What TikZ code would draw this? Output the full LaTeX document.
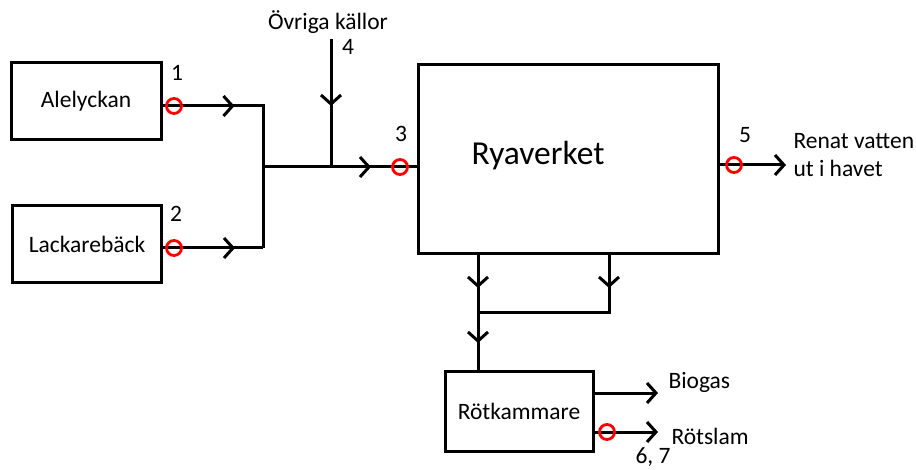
\documentclass[tikz,border=0pt]{standalone}
\usepackage{fontspec}
\setmainfont{Carlito}
\usetikzlibrary{arrows.meta,decorations.markings}
\begin{document}
\begin{tikzpicture}[x=1pt,y=-1pt,line width=3pt,
  txt/.style={font=\fontsize{23.5}{28}\selectfont,inner sep=0pt},
  big/.style={font=\fontsize{33.5}{38}\selectfont,inner sep=0pt},
  box/.style={draw,line width=3pt,txt,inner sep=0pt},
  ring/.style={circle,draw=red,line width=2.8pt,minimum size=15pt,inner sep=0pt},
  tipline/.style={-{Straight Barb[length=9pt,width=20pt]}},
  midarr/.style={postaction={decorate},decoration={markings,mark=at position #1 with {\arrow{Straight Barb[length=9pt,width=20pt]}}}}]
\useasboundingbox (0,0) rectangle (916,470);

% boxes
\node[box,minimum width=150pt,minimum height=77pt] (A) at (86,101) {Alelyckan};
\node[box,minimum width=149pt,minimum height=77pt] (L) at (87,244) {Lackarebäck};
\node[draw,line width=3pt,minimum width=300pt,minimum height=189pt,inner sep=0pt] (R) at (568,159.5) {};
\node[big] (Rt) at (538,156) {Ryaverket};
\node[box,minimum width=148pt,minimum height=79pt] (K) at (519,411.5) {Rötkammare};

% junction points
\coordinate (jA) at (263,106);
\coordinate (jB) at (263,248);
\coordinate (j1) at (263,167);
\coordinate (ov) at (331,39);
\coordinate (j2) at (331,167);
\coordinate (d1) at (478,254);
\coordinate (d2) at (609,254);
\coordinate (h1) at (478,313);
\coordinate (h2) at (609,313);
\coordinate (out) at (786,165);
\coordinate (bg) at (658,393);
\coordinate (rs) at (658,432);

% measurement ring positions
\coordinate (p1) at (174,106);
\coordinate (p2) at (174,248);
\coordinate (p3) at (400,167);
\coordinate (p5) at (734,165);
\coordinate (p6) at (607,432);

% connectors
\draw[midarr=72pt] (A.east |- p1) -- (jA) -- (jB);
\draw[midarr=72pt] (L.east |- p2) -- (jB);
\draw[midarr=108pt] (j1) -- (R.west |- p3);
\draw[midarr=67pt] (ov) -- (j2);
\draw[tipline] (R.east |- p5) -- (out);
\draw[midarr=34pt] (d1) -- (h1);
\draw[midarr=34pt] (d2) -- (h2) -- (h1);
\draw[midarr=30pt] (h1) -- (K.north -| h1);
\draw[tipline] (K.east |- bg) -- (bg);
\draw[tipline] (K.east |- p6) -- (rs);

% rings
\node[ring] (c1) at (p1) {};
\node[ring] (c2) at (p2) {};
\node[ring] (c3) at (p3) {};
\node[ring] (c5) at (p5) {};
\node[ring] (c6) at (p6) {};

% labels
\node[txt] (n1) at (177,73) {1};
\node[txt] (n2) at (176,214) {2};
\node[txt] (n3) at (401,134) {3};
\node[txt] (n4) at (348,47) {4};
\node[txt] (n5) at (745,135) {5};
\node[txt] (ovt) at (328,22) {Övriga källor};
\node[txt,anchor=west,align=left] (rv) at (792,155) {Renat vatten\\ut i havet};
\node[txt,anchor=west] (bgt) at (667,382) {Biogas};
\node[txt,anchor=west] (rst) at (670,436) {Rötslam};
\node[txt] (n67) at (653,457) {6, 7};
\end{tikzpicture}
\end{document}
